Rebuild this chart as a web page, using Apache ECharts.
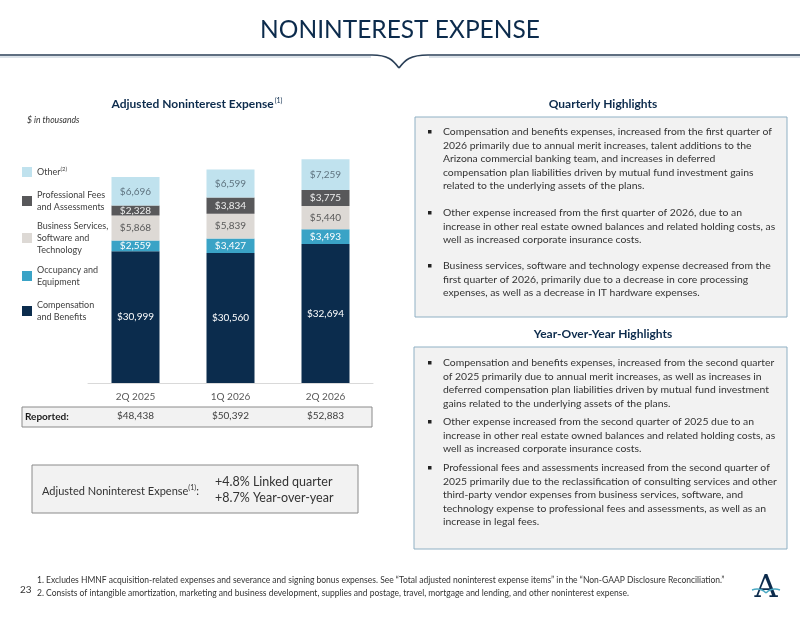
<!DOCTYPE html>
<html>
<head>
<meta charset="utf-8">
<script src="https://cdn.jsdelivr.net/npm/echarts@6/dist/echarts.min.js"></script>
<style>
html,body{margin:0;padding:0;background:#fff;}
#chart{width:800px;height:618px;}
</style>
</head>
<body>
<div id="chart"></div>
<script>
// ---- data ----
var categories = ['2Q 2025', '1Q 2026', '2Q 2026'];
var compensation = [30999, 30560, 32694];
var occupancy = [2559, 3427, 3493];
var businessServices = [5868, 5839, 5440];
var professionalFees = [2328, 3834, 3775];
var other = [6696, 6599, 7259];
var totals = [48450, 50259, 52661];
var reported = ['$48,438', '$50,392', '$52,883'];
var linkedQuarter = '+4.8% Linked quarter';
var yearOverYear = '+8.7% Year-over-year';

var quarterlyBullets = [
  ['Compensation and benefits expenses, increased from the first quarter of',
   '2026 primarily due to annual merit increases, talent additions to the',
   'Arizona commercial banking team, and increases in deferred',
   'compensation plan liabilities driven by mutual fund investment gains',
   'related to the underlying assets of the plans.'],
  ['Other expense increased from the first quarter of 2026, due to an',
   'increase in other real estate owned balances and related holding costs, as',
   'well as increased corporate insurance costs.'],
  ['Business services, software and technology expense decreased from the',
   'first quarter of 2026, primarily due to a decrease in core processing',
   'expenses, as well as a decrease in IT hardware expenses.']
];
var yoyBullets = [
  ['Compensation and benefits expenses, increased from the second quarter',
   'of 2025 primarily due to annual merit increases, as well as increases in',
   'deferred compensation plan liabilities driven by mutual fund investment',
   'gains related to the underlying assets of the plans.'],
  ['Other expense increased from the second quarter of 2025 due to an',
   'increase in other real estate owned balances and related holding costs, as',
   'well as increased corporate insurance costs.'],
  ['Professional fees and assessments increased from the second quarter of',
   '2025 primarily due to the reclassification of consulting services and other',
   'third-party vendor expenses from business services, software, and',
   'technology expense to professional fees and assessments, as well as an',
   'increase in legal fees.']
];
var footnotes = [
  '1. Excludes HMNF acquisition-related expenses and severance and signing bonus expenses. See \u201cTotal adjusted noninterest expense items\u201d in the \u201cNon-GAAP Disclosure Reconciliation.\u201d',
  '2. Consists of intangible amortization, marketing and business development, supplies and postage, travel, mortgage and lending, and other noninterest expense.'
];

// ---- styling ----
var FONT = 'Lato';
var NAVY = '#0c2b4c';
var C_COMP = '#0b2c4d', C_OCC = '#3aa3c6', C_BUS = '#ddd9d5', C_PROF = '#58585a', C_OTHER = '#c0e2ee';
var TXT = '#333333';

var chart = echarts.init(document.getElementById('chart'));

function bulletGraphics(blocks, x, starts, lh) {
  var els = [];
  blocks.forEach(function (lines, b) {
    var y0 = starts[b];
    els.push({type: 'rect', shape: {x: x, y: y0 - 2, width: 3.5, height: 3.5}, style: {fill: '#222'}});
    lines.forEach(function (ln, i) {
      els.push({type: 'text', x: x + 15, y: y0 + i * lh, style: {text: ln, fill: TXT, font: '10.4px ' + FONT, textVerticalAlign: 'middle'}});
    });
  });
  return els;
}

var hdr = {fill: null, stroke: '#2a3f57', lineWidth: 1.6};
var graphics = [
  {type: 'text', x: 400, y: 30, style: {text: 'NONINTEREST EXPENSE', fill: NAVY, font: '24.5px ' + FONT, textAlign: 'center', textVerticalAlign: 'middle'}},
  {type: 'line', shape: {x1: 0, y1: 55, x2: 372, y2: 55}, style: hdr},
  {type: 'bezierCurve', shape: {x1: 372, y1: 55, x2: 399, y2: 68, cpx1: 388, cpy1: 55, cpx2: 393, cpy2: 60}, style: hdr},
  {type: 'bezierCurve', shape: {x1: 399, y1: 68, x2: 428, y2: 55, cpx1: 405, cpy1: 60, cpx2: 410, cpy2: 55}, style: hdr},
  {type: 'line', shape: {x1: 428, y1: 55, x2: 800, y2: 55}, style: hdr},
  {type: 'line', shape: {x1: 0, y1: 57, x2: 371, y2: 57}, style: {stroke: '#b9c7d4', lineWidth: 1}},
  {type: 'line', shape: {x1: 429, y1: 57, x2: 800, y2: 57}, style: {stroke: '#b9c7d4', lineWidth: 1}},
  {type: 'text', x: 197, y: 104, style: {text: '{b|Adjusted Noninterest Expense}{s|(1)}', textAlign: 'center', textVerticalAlign: 'middle',
    rich: {b: {font: 'bold 12px ' + FONT, fill: NAVY}, s: {font: '7px ' + FONT, fill: NAVY, padding: [0, 0, 7, 1]}}}},
  {type: 'text', x: 27, y: 120, style: {text: '$ in thousands', fill: TXT, font: 'italic 8.6px ' + FONT, textVerticalAlign: 'middle'}},
  // reported row box
  {type: 'rect', z: -1, shape: {x: 22, y: 407, width: 350, height: 20}, style: {fill: '#f2f2f2', stroke: '#8a8a8a', lineWidth: 1}},
  {type: 'text', x: 25, y: 417, style: {text: 'Reported:', fill: '#1a1a1a', font: 'bold 10px ' + FONT, textVerticalAlign: 'middle'}},
  // callout box
  {type: 'rect', shape: {x: 32, y: 465, width: 326, height: 48}, style: {fill: '#f2f2f2', stroke: '#8a8a8a', lineWidth: 1}},
  {type: 'text', x: 42, y: 491, style: {text: '{a|Adjusted Noninterest Expense}{s|(1)}{a|:}', textVerticalAlign: 'middle',
    rich: {a: {font: '11px ' + FONT, fill: TXT}, s: {font: '7px ' + FONT, fill: TXT, padding: [0, 0, 6, 0]}}}},
  {type: 'text', x: 215, y: 482, style: {text: linkedQuarter, fill: TXT, font: '12.5px ' + FONT, textVerticalAlign: 'middle'}},
  {type: 'text', x: 215, y: 498, style: {text: yearOverYear, fill: TXT, font: '12.5px ' + FONT, textVerticalAlign: 'middle'}},
  // right panels
  {type: 'text', x: 603, y: 104, style: {text: 'Quarterly Highlights', fill: NAVY, font: 'bold 12px ' + FONT, textAlign: 'center', textVerticalAlign: 'middle'}},
  {type: 'rect', shape: {x: 415, y: 117, width: 372, height: 200}, style: {fill: '#f2f2f2', stroke: '#8fb0c4', lineWidth: 1}},
  {type: 'text', x: 603, y: 334, style: {text: 'Year-Over-Year Highlights', fill: NAVY, font: 'bold 12px ' + FONT, textAlign: 'center', textVerticalAlign: 'middle'}},
  {type: 'rect', shape: {x: 414, y: 347, width: 373, height: 202}, style: {fill: '#f2f2f2', stroke: '#8fb0c4', lineWidth: 1}},
  // footer
  {type: 'text', x: 20, y: 590, style: {text: '23', fill: TXT, font: '10px ' + FONT, textVerticalAlign: 'middle'}},
  {type: 'text', x: 37, y: 580, style: {text: footnotes[0], fill: TXT, font: '8.5px ' + FONT, textVerticalAlign: 'middle'}},
  {type: 'text', x: 37, y: 593, style: {text: footnotes[1], fill: TXT, font: '8.5px ' + FONT, textVerticalAlign: 'middle'}},
  {type: 'text', x: 766, y: 589, style: {text: 'A', fill: NAVY, font: '32px "DejaVu Serif"', textAlign: 'center', textVerticalAlign: 'middle'}},
  {type: 'bezierCurve', shape: {x1: 752, y1: 590, x2: 766, y2: 593, cpx1: 758, cpy1: 588, cpx2: 762, cpy2: 589}, style: {fill: null, stroke: '#4aa8c2', lineWidth: 1.5}},
  {type: 'bezierCurve', shape: {x1: 766, y1: 593, x2: 780, y2: 590, cpx1: 770, cpy1: 589, cpx2: 774, cpy2: 588}, style: {fill: null, stroke: '#4aa8c2', lineWidth: 1.5}}
];
graphics = graphics.concat(bulletGraphics(quarterlyBullets, 428, [132, 213, 266], 13.4));
graphics = graphics.concat(bulletGraphics(yoyBullets, 428, [363, 422, 468], 13.5));

function legendAt(name, top, label) {
  return {
    show: true, data: [name], left: 22, top: top, orient: 'vertical', padding: 0,
    itemWidth: 10, itemHeight: 10, itemGap: 0, icon: 'rect',
    formatter: function () { return label; },
    textStyle: {fontFamily: FONT, fontSize: 9, color: '#404040', lineHeight: 12,
      rich: {s: {fontSize: 6, fontFamily: FONT, color: '#404040', padding: [0, 0, 6, 0]}}}
  };
}

function seg(name, data, color, labelColor) {
  return {
    name: name, type: 'bar', stack: 'total', data: data, barWidth: 48,
    itemStyle: {color: color}, xAxisIndex: 0,
    label: {show: true, position: 'inside', color: labelColor, fontFamily: FONT, fontSize: 10,
      formatter: function (p) { return '$' + p.value.toLocaleString('en-US'); }}
  };
}

var option = {
  animation: false,
  textStyle: {fontFamily: FONT},
  grid: {left: 88, right: 427, top: 128, bottom: 235, containLabel: false},
  legend: [
    legendAt('Other', 166, 'Other{s|(2)}'),
    legendAt('Professional Fees and Assessments', 189, 'Professional Fees\nand Assessments'),
    legendAt('Business Services, Software and Technology', 220, 'Business Services,\nSoftware and\nTechnology'),
    legendAt('Occupancy and Equipment', 264, 'Occupancy and\nEquipment'),
    legendAt('Compensation and Benefits', 299, 'Compensation\nand Benefits')
  ],
  xAxis: [
    {type: 'category', data: categories, position: 'bottom',
      axisLine: {lineStyle: {color: '#d9d9d9', width: 1}}, axisTick: {show: false},
      axisLabel: {color: '#595959', fontSize: 10, fontFamily: FONT, margin: 9}},
    {type: 'category', data: categories, position: 'bottom', offset: 20,
      axisLine: {show: false}, axisTick: {show: false},
      axisLabel: {color: '#404040', fontSize: 10, fontFamily: FONT, margin: 8,
        formatter: function (v, i) { return reported[i]; }}}
  ],
  yAxis: {type: 'value', min: 0, max: 60000, show: false, splitLine: {show: false}},
  series: [
    seg('Compensation and Benefits', compensation, C_COMP, '#ffffff'),
    seg('Occupancy and Equipment', occupancy, C_OCC, '#ffffff'),
    seg('Business Services, Software and Technology', businessServices, C_BUS, '#595959'),
    seg('Professional Fees and Assessments', professionalFees, C_PROF, '#eeeeee'),
    seg('Other', other, C_OTHER, '#5f7480'),
    {name: 'Total', type: 'line', data: totals, xAxisIndex: 0, symbol: 'circle', symbolSize: 1,
      itemStyle: {opacity: 0}, lineStyle: {opacity: 0}, silent: true,
      label: {show: true, position: 'top', distance: 7, color: '#1a1a1a', fontWeight: 'bold', fontSize: 11, fontFamily: FONT,
        formatter: function (p) { return '$' + p.value.toLocaleString('en-US'); }}}
  ],
  graphic: {elements: graphics}
};
chart.setOption(option);
</script>
</body>
</html>
